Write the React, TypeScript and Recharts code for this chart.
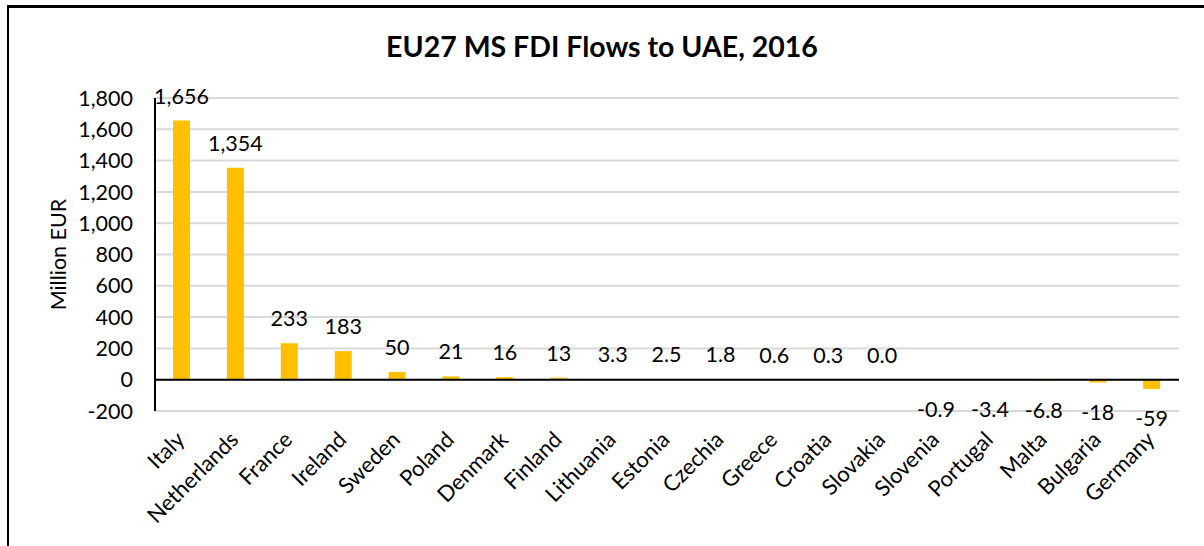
import { BarChart, Bar, XAxis, YAxis, CartesianGrid, ReferenceLine, LabelList } from "recharts";

const countries = [
  "Italy", "Netherlands", "France", "Ireland", "Sweden", "Poland", "Denmark", "Finland",
  "Lithuania", "Estonia", "Czechia", "Greece", "Croatia", "Slovakia", "Slovenia",
  "Portugal", "Malta", "Bulgaria", "Germany",
];
const flows = [1656, 1354, 233, 183, 50, 21, 16, 13, 3.3, 2.5, 1.8, 0.6, 0.3, 0.02, -0.9, -3.4, -6.8, -18, -59];
const yTicks = [-200, 0, 200, 400, 600, 800, 1000, 1200, 1400, 1600, 1800];

const data = countries.map((name, i) => ({ name, value: flows[i] }));

const font = "Lato, 'Open Sans', sans-serif";

function fmt(v: number) {
  if (Math.abs(v) >= 10) return Math.round(v).toLocaleString("en-US");
  return v.toFixed(1);
}

function ValueLabel(props: any) {
  const { x, y, width, height, value } = props;
  const top = Math.min(y, y + height);
  const bottom = Math.max(y, y + height);
  const cx = x + width / 2;
  const ty = value >= 0 ? top - 25 : bottom + 29;
  return (
    <text x={cx} y={ty} textAnchor="middle" dominantBaseline="central" fontSize={21.5} fill="#000" fontFamily={font}>
      {fmt(value)}
    </text>
  );
}

function CountryTick(props: any) {
  const { x, y, payload } = props;
  return (
    <g transform={`translate(${x - 2},${y + 16})`}>
      <text x={0} y={0} textAnchor="end" dominantBaseline="central" transform="rotate(-45)" fontSize={22} fill="#000" fontFamily={font}>
        {payload.value}
      </text>
    </g>
  );
}

export default function App() {
  return (
    <div style={{ position: "absolute", left: 0, top: 0, width: 1204, height: 546, overflow: "hidden", background: "#fff" }}>
      <div style={{ position: "absolute", left: 7, top: 5, width: 1400, height: 800, borderLeft: "2px solid #000", borderTop: "3px solid #000" }} />
      <div style={{ position: "absolute", left: 0, top: 29, width: 1204, textAlign: "center", fontFamily: font, fontWeight: 700, fontSize: 28.5, color: "#000" }}>
        EU27 MS FDI Flows to UAE, 2016
      </div>
      <div style={{ position: "absolute", left: 0, top: 0 }}>
        <BarChart width={1204} height={546} data={data} margin={{ top: 98, right: 25, left: 95, bottom: 15 }}>
          <CartesianGrid vertical={false} stroke="#d9d9d9" strokeWidth={2} />
          <XAxis dataKey="name" interval={0} axisLine={false} tickLine={false} height={120} tick={<CountryTick />} />
          <YAxis
            domain={[-200, 1800]}
            ticks={yTicks}
            width={60}
            tickFormatter={(v: number) => v.toLocaleString("en-US")}
            axisLine={{ stroke: "#000", strokeWidth: 2 }}
            tickLine={false}
            tickMargin={16}
            tick={{ fontSize: 21.5, fill: "#000", fontFamily: font }}
            label={{ value: "Million EUR", angle: -90, position: "insideLeft", offset: -37, style: { fontSize: 21.5, fill: "#000", fontFamily: font, textAnchor: "middle" } }}
          />
          <ReferenceLine y={0} stroke="#000" strokeWidth={2} />
          <Bar dataKey="value" fill="#ffc000" barSize={17} isAnimationActive={false}>
            <LabelList dataKey="value" content={<ValueLabel />} />
          </Bar>
        </BarChart>
      </div>
    </div>
  );
}
